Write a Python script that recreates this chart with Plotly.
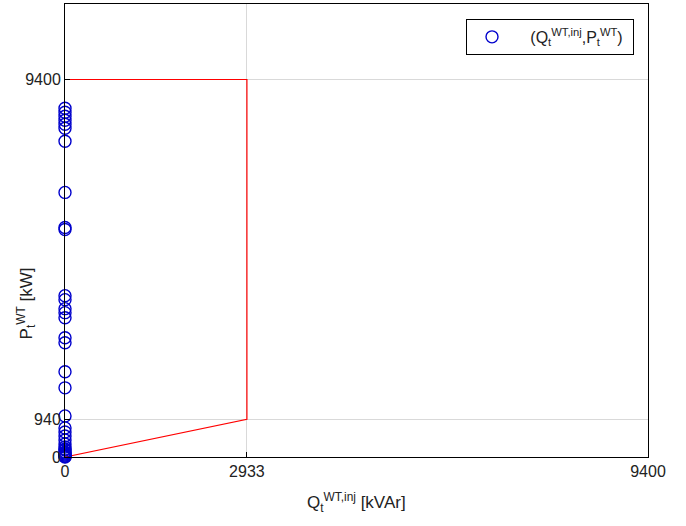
import plotly.graph_objects as go

# Data: wind turbine operating points (Q injected, P)
q_points = [0, 0, 0, 0, 0, 0, 0, 0, 0, 0, 0, 0, 0, 0, 0, 0, 0, 0, 0,
            0, 0, 0, 0, 0, 0, 0, 0, 0, 0, 0, 0, 0, 0, 0, 0]
p_points = [8685, 8585, 8485, 8385, 8285, 8185, 7861,
            6589, 5715, 5665,
            4018, 3918, 3694, 3594, 3469, 2970, 2845, 2121, 1722,
            1023, 724, 624, 524, 424, 324, 250, 175, 125, 75, 25, 0,
            50, 100, 200, 10]

# Capability boundary (red line)
q_bound = [0, 2933, 2933, 0]
p_bound = [0, 940, 9400, 9400]

x_ticks = [0, 2933, 9400]
y_ticks = [0, 940, 9400]
x_max = 9400
y_max = 11280

font = "Liberation Sans, Arial, sans-serif"

fig = go.Figure()
fig.add_trace(go.Scatter(
    x=q_bound, y=p_bound, mode="lines",
    line=dict(color="#ff0000", width=1.2),
    showlegend=False, hoverinfo="skip"))
fig.add_trace(go.Scatter(
    x=q_points, y=p_points, mode="markers",
    marker=dict(symbol="circle-open", size=12, color="#0000cc",
                line=dict(width=1.4, color="#0000cc")),
    name="&nbsp;&nbsp;&nbsp;(Q<sub>t</sub><sup>WT,inj</sup>,P<sub>t</sub><sup>WT</sup>)&nbsp;",
    cliponaxis=False))

axis_common = dict(showline=True, linecolor="black", linewidth=1, mirror=True,
                   ticks="inside", ticklen=5, tickcolor="black",
                   showgrid=True, gridcolor="#d9d9d9", gridwidth=1,
                   zeroline=False,
                   tickfont=dict(family=font, size=16, color="#222"))

fig.update_layout(
    width=686, height=526,
    margin=dict(l=65, r=38, t=4, b=69),
    paper_bgcolor="white", plot_bgcolor="white",
    xaxis=dict(range=[0, x_max], tickvals=x_ticks, **axis_common),
    yaxis=dict(range=[0, y_max], tickvals=y_ticks, **axis_common),
    legend=dict(x=0.976, y=0.967, xanchor="right", yanchor="top",
                bordercolor="black", borderwidth=1, bgcolor="white",
                font=dict(family=font, size=16, color="#222"),
                itemwidth=40),
    annotations=[
        dict(text="Q<sub>t</sub><sup>WT,inj</sup> [kVAr]", xref="paper", yref="paper",
             x=0.5, y=-0.1015, xanchor="center", yanchor="middle", showarrow=False,
             font=dict(family=font, size=17, color="#222")),
        dict(text="P<sub>t</sub><sup>WT</sup> [kW]", xref="paper", yref="paper",
             x=-0.066, y=0.338, xanchor="center", yanchor="middle", showarrow=False,
             textangle=-90, font=dict(family=font, size=17, color="#222")),
    ],
)

fig.write_html("out.html", config={"displayModeBar": False},
               post_script="document.body.style.margin='0px';document.body.style.overflow='hidden';")
